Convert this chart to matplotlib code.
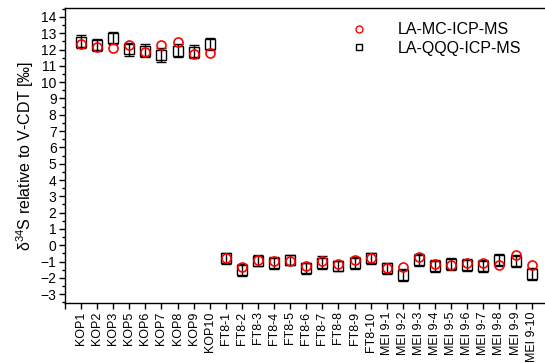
import matplotlib.pyplot as plt
from matplotlib.lines import Line2D
import numpy as np

plt.rcParams['font.family'] = ['Liberation Sans', 'DejaVu Sans']
plt.rcParams['mathtext.fontset'] = 'custom'
plt.rcParams['mathtext.rm'] = 'Liberation Sans'

# sample names
samples = ["KOP1", "KOP2", "KOP3", "KOP5", "KOP6", "KOP7", "KOP8", "KOP9", "KOP10",
           "FT8-1", "FT8-2", "FT8-3", "FT8-4", "FT8-5", "FT8-6", "FT8-7", "FT8-8", "FT8-9", "FT8-10",
           "MEI 9-1", "MEI 9-2", "MEI 9-3", "MEI 9-4", "MEI 9-5", "MEI 9-6", "MEI 9-7", "MEI 9-8",
           "MEI 9-9", "MEI 9-10"]

# LA-MC-ICP-MS values
mc = [12.34, 12.18, 12.08, 12.28, 11.83, 12.28, 12.49, 11.70, 11.77,
      -0.77, -1.32, -0.90, -0.95, -0.95, -1.26, -0.95, -1.15, -0.91, -0.80,
      -1.42, -1.32, -0.74, -1.15, -1.21, -1.07, -1.07, -1.21, -0.60, -1.21]

# LA-QQQ-ICP-MS values and uncertainties
qqq = [12.49, 12.28, 12.69, 12.02, 11.94, 11.67, 11.94, 11.88, 12.34,
       -0.80, -1.52, -0.95, -1.07, -0.91, -1.42, -1.07, -1.28, -1.07, -0.80,
       -1.42, -1.83, -0.91, -1.28, -1.15, -1.21, -1.28, -0.91, -0.95, -1.77]
qqq_err = [0.39, 0.39, 0.37, 0.40, 0.39, 0.41, 0.41, 0.37, 0.36,
           0.35, 0.39, 0.34, 0.36, 0.32, 0.36, 0.38, 0.33, 0.37, 0.35,
           0.35, 0.38, 0.38, 0.37, 0.36, 0.36, 0.37, 0.37, 0.38, 0.36]

x = np.arange(1, len(samples) + 1)

fig = plt.figure(figsize=(5.45, 3.63), dpi=100)
ax = fig.add_axes([0.119, 0.165, 0.886, 0.813])

ax.errorbar(x, qqq, yerr=qqq_err, fmt='s', mfc='none', mec='black', ecolor='black',
            ms=6.5, mew=1, capsize=3.5, elinewidth=1, capthick=1, zorder=2)
ax.plot(x, mc, 'o', mfc='none', mec='red', ms=6.5, mew=1.2, linestyle='none', zorder=3)

ax.set_xlim(0, 30)
ax.set_ylim(-3.55, 14.55)
ax.set_yticks(np.arange(-3, 15, 1))
ax.set_yticks(np.arange(-3.5, 14.6, 0.5), minor=True)
ax.set_xticks(np.arange(0, len(samples) + 1))
ax.set_xticklabels([""] + samples, rotation=90, fontsize=9)
ax.tick_params(axis='y', direction='out', labelsize=10, length=4, width=1, pad=2)
ax.tick_params(axis='y', which='minor', direction='out', length=2.5, width=1)
ax.tick_params(axis='x', direction='out', length=4, width=1, pad=2)
ax.spines['right'].set_visible(False)
for s in ['left', 'bottom', 'top']:
    ax.spines[s].set_linewidth(1)

ax.set_ylabel(r"δ$^{34}$S relative to V-CDT [‰]", fontsize=11.5, labelpad=3)

handles = [Line2D([], [], marker='o', ls='none', mfc='none', mec='red', ms=5, mew=1),
           Line2D([], [], marker='s', ls='none', mfc='none', mec='black', ms=5, mew=1)]
ax.legend(handles, ["LA-MC-ICP-MS", "LA-QQQ-ICP-MS"], loc='upper right',
          bbox_to_anchor=(0.975, 1.0), frameon=False, fontsize=11.5,
          handletextpad=1.4, labelspacing=0.2, borderaxespad=0.5)

plt.savefig("out.png", dpi=100)
